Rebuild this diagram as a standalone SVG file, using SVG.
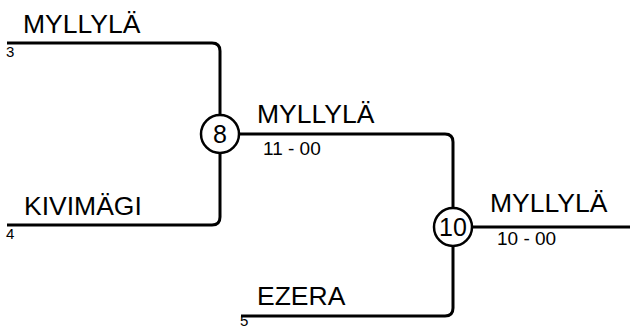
<svg xmlns="http://www.w3.org/2000/svg" width="630" height="329" viewBox="0 0 630 329">
<style>
.ln{fill:none;stroke:#000;stroke-width:3}
.nd{fill:#fff;stroke:#000;stroke-width:2.5}
text{font-family:"Liberation Sans",Arial,sans-serif;fill:#000}
.nm{font-size:26.5px}
.sc{font-size:19px}
.sd{font-size:15px}
.cn{font-size:25px;text-anchor:middle}
</style>
<rect width="630" height="329" fill="#fff"/>
<g id="connectors">
<path class="ln" d="M7,43 H212 Q220,43 220,51 V115"/>
<path class="ln" d="M7,225 H212 Q220,225 220,217 V153"/>
<path class="ln" d="M239,134 H445 Q453,134 453,142 V208"/>
<path class="ln" d="M241,316 H445 Q453,316 453,308 V246"/>
<path class="ln" d="M472,227 H630"/>
</g>
<g id="team3"><text class="sd" x="6" y="57">3</text><text class="nm" x="23" y="33">MYLLYLÄ</text></g>
<g id="team4"><text class="nm" x="24" y="215">KIVIMÄGI</text><text class="sd" x="6" y="239">4</text></g>
<g id="team5"><text class="nm" x="257" y="305">EZERA</text><text class="sd" x="240" y="325.5">5</text></g>
<g id="match8"><circle class="nd" cx="220" cy="134" r="19"/><text class="cn" x="220" y="143">8</text></g>
<g id="match10"><circle class="nd" cx="453" cy="227" r="19"/><text class="cn" x="453" y="236">10</text></g>
<g id="winner8"><text class="nm" x="257" y="123">MYLLYLÄ</text><text class="sc" x="263" y="155">11 - 00</text></g>
<g id="winner10"><text class="nm" x="490" y="212">MYLLYLÄ</text><text class="sc" x="497" y="245">10 - 00</text></g>
</svg>
